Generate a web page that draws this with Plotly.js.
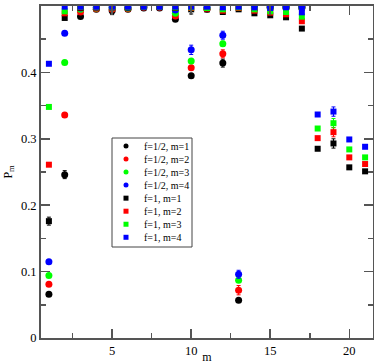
<!DOCTYPE html>
<html>
<head>
<meta charset="utf-8">
<script src="https://cdn.plot.ly/plotly-3.0.1.min.js"></script>
<style>html,body{margin:0;padding:0;background:#fff}#chart{width:374px;height:364px}</style>
</head>
<body>
<div id="chart"></div>
<script>
// ---- data ----
var mHalf = [1,2,3,4,5,6,7,8,9,10,11,12,13,14,15,16,17];
var mOne  = [1,2,3,4,5,6,7,8,9,10,11,12,13,14,15,16,17,18,19,20,21];

var half_m1 = [0.066,0.246,0.484,0.495,0.493,0.495,0.497,0.497,0.480,0.395,0.495,0.414,0.057,0.496,0.497,0.497,0.497];
var half_m2 = [0.081,0.336,0.491,0.496,0.495,0.496,0.498,0.498,0.485,0.407,0.496,0.428,0.072,0.497,0.498,0.498,0.498];
var half_m3 = [0.094,0.415,0.495,0.497,0.497,0.497,0.499,0.499,0.489,0.417,0.497,0.443,0.087,0.498,0.498,0.498,0.498];
var half_m4 = [0.115,0.459,0.497,0.498,0.498,0.498,0.499,0.499,0.494,0.434,0.498,0.456,0.096,0.499,0.499,0.499,0.499];

var half_e1 = [0.002,0.006,0.002,0.002,0.006,0.002,0.002,0.002,0.002,0.003,0.002,0.006,0.002,0.002,0.002,0.002,0.002];
var half_e2 = [0.002,0.003,0.002,0.002,0.002,0.002,0.002,0.002,0.002,0.003,0.002,0.006,0.007,0.002,0.002,0.002,0.002];
var half_e3 = [0.002,0.003,0.002,0.002,0.002,0.002,0.002,0.002,0.002,0.003,0.002,0.004,0.003,0.002,0.002,0.002,0.002];
var half_e4 = [0.002,0.003,0.002,0.002,0.002,0.002,0.002,0.002,0.002,0.007,0.002,0.006,0.006,0.002,0.002,0.002,0.002];

var one_m1 = [0.176,0.482,0.497,0.498,0.498,0.498,0.499,0.499,0.497,0.495,0.495,0.491,0.495,0.489,0.486,0.483,0.466,0.285,0.293,0.257,0.251];
var one_m2 = [0.261,0.489,0.498,0.498,0.498,0.499,0.499,0.499,0.498,0.497,0.496,0.493,0.497,0.493,0.490,0.4875,0.477,0.301,0.310,0.272,0.262];
var one_m3 = [0.348,0.492,0.499,0.499,0.499,0.499,0.499,0.499,0.498,0.498,0.497,0.495,0.498,0.495,0.492,0.491,0.484,0.3155,0.3235,0.284,0.272];
var one_m4 = [0.413,0.499,0.499,0.499,0.499,0.499,0.499,0.499,0.499,0.499,0.499,0.498,0.499,0.498,0.497,0.498,0.4905,0.3366,0.341,0.299,0.288];

var one_e1 = [0.006,0.002,0.002,0.002,0.002,0.002,0.002,0.002,0.002,0.007,0.002,0.002,0.002,0.002,0.002,0.002,0.002,0.002,0.007,0.002,0.002];
var one_e2 = [0.002,0.002,0.002,0.002,0.002,0.002,0.002,0.002,0.002,0.002,0.002,0.002,0.002,0.002,0.002,0.002,0.002,0.002,0.007,0.002,0.002];
var one_e3 = [0.002,0.002,0.002,0.002,0.002,0.002,0.002,0.002,0.002,0.002,0.002,0.002,0.002,0.002,0.002,0.002,0.002,0.002,0.007,0.002,0.002];
var one_e4 = [0.002,0.002,0.002,0.002,0.002,0.002,0.002,0.002,0.002,0.002,0.002,0.002,0.002,0.002,0.002,0.002,0.002,0.002,0.007,0.002,0.002];

var seriesNames = ["f=1/2, m=1","f=1/2, m=2","f=1/2, m=3","f=1/2, m=4","f=1, m=1","f=1, m=2","f=1, m=3","f=1, m=4"];
var colors = ["#000000","#ff0000","#00ff00","#0000ff"];

var SERIF = '"Liberation Serif", "Times New Roman", Times, serif';

// ---- traces ----
var halfY = [half_m1,half_m2,half_m3,half_m4];
var halfE = [half_e1,half_e2,half_e3,half_e4];
var oneY = [one_m1,one_m2,one_m3,one_m4];
var oneE = [one_e1,one_e2,one_e3,one_e4];
var traces = [];
for (var i=0;i<4;i++){
  traces.push({x:mHalf,y:halfY[i],type:'scatter',mode:'markers',name:seriesNames[i],
    marker:{symbol:'circle',size:7,color:colors[i]},
    error_y:{type:'data',array:halfE[i],visible:true,color:colors[i],thickness:1,width:2},showlegend:false});
}
for (var i=0;i<4;i++){
  traces.push({x:mOne,y:oneY[i],type:'scatter',mode:'markers',name:seriesNames[4+i],
    marker:{symbol:'square',size:6,color:colors[i]},
    error_y:{type:'data',array:oneE[i],visible:true,color:colors[i],thickness:1,width:2},showlegend:false});
}

// ---- manual legend (compact, like the original) ----
var shapes = [], annotations = [];
var PH = 332, top0 = 6;
function py2paper(py){ return (PH + top0 - py)/PH; }
function px2paper(px){ return (px - 41)/332; }
shapes.push({type:'rect',xref:'paper',yref:'paper',x0:px2paper(112),x1:px2paper(192),y0:py2paper(247),y1:py2paper(138),
  line:{color:'#444',width:1},fillcolor:'#fff',layer:'above'});
for (var k=0;k<8;k++){
  var py = 146 + 13.04*k;
  var col = colors[k%4];
  shapes.push({type:(k<4?'circle':'rect'),xref:'paper',yref:'paper',xsizemode:'pixel',ysizemode:'pixel',
    xanchor:px2paper(126),yanchor:py2paper(py),x0:-2.5,x1:2.5,y0:-2.5,y1:2.5,
    line:{width:0},fillcolor:col,layer:'above'});
  annotations.push({xref:'paper',yref:'paper',x:px2paper(141.5),y:py2paper(py),xanchor:'left',yanchor:'middle',
    text:seriesNames[k],showarrow:false,font:{family:SERIF,size:10,color:'#000'}});
}

var axisCommon = {showgrid:false,zeroline:false,showline:true,linecolor:'#555',linewidth:2,mirror:'ticks',
  ticks:'inside',ticklen:9,tickwidth:1.5,tickcolor:'#555',
  tickfont:{family:SERIF,size:12.5,color:'#000'}};

var layout = {
  width:374,height:364,
  margin:{l:41,r:1,t:6,b:26},
  paper_bgcolor:'#fff',plot_bgcolor:'#fff',
  font:{family:SERIF},
  showlegend:false,
  xaxis:Object.assign({},axisCommon,{range:[0.5,21.5],tick0:0,dtick:5,
    minor:{ticks:'inside',ticklen:5,dtick:2.5,tick0:0,tickcolor:'#555',tickwidth:1.5,showgrid:false},
    title:{text:'m',font:{family:SERIF,size:12,color:'#000'},standoff:5}}),
  yaxis:Object.assign({},axisCommon,{range:[0,0.5],tick0:0,dtick:0.1,
    minor:{ticks:'inside',ticklen:5,dtick:0.05,tick0:0,tickcolor:'#555',tickwidth:1.5,showgrid:false},
    title:{text:'P<sub>m</sub>',font:{family:SERIF,size:12,color:'#000'},standoff:6}}),
  shapes:shapes,
  annotations:annotations
};

Plotly.newPlot('chart',traces,layout,{displayModeBar:false,staticPlot:true});
</script>
</body>
</html>
